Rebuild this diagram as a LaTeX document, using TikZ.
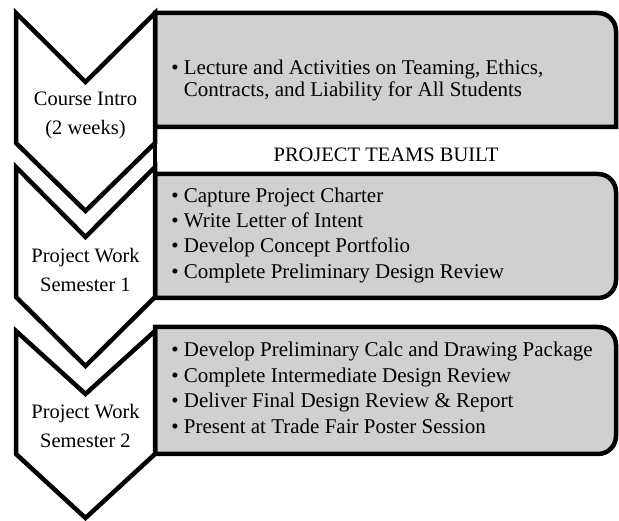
\documentclass[tikz,border=0pt]{standalone}
\usepackage{fontspec}
\setmainfont{Liberation Serif}
\definecolor{boxgray}{RGB}{208,208,208}

\begin{document}
\begin{tikzpicture}[x=1pt,y=-1pt,line join=miter,line width=4.5pt]
	\tikzset{every node/.style={inner sep=0pt,font=\fontsize{20.5}{25}\selectfont},
		item/.style={anchor=base west,font=\fontsize{21}{25}\selectfont},
		stage/.style={align=center,font=\fontsize{20.5}{29}\selectfont}}
	\useasboundingbox (0,0) rectangle (619,521);
	\draw[fill=boxgray] (155,13)--(598,13) arc[start angle=-90,end angle=0,radius=18]--(616,127)--(155,127)--cycle;
	\draw[fill=boxgray] (155,174)--(598,174) arc[start angle=-90,end angle=0,radius=18]--(616,280) arc[start angle=0,end angle=90,radius=18]--(155,298)--cycle;
	\draw[fill=boxgray] (155,327)--(598,327) arc[start angle=-90,end angle=0,radius=18]--(616,436) arc[start angle=0,end angle=90,radius=18]--(155,454)--cycle;
	\draw (155,127)--(155,174);
	\foreach \t/\n/\s/\p in {13/82/143/211,167/237/297/366,331/394/454/518}
	\draw[fill=white] (16,\t)--(85.5,\n)--(155,\t)--(155,\s)--(85.5,\p)--(16,\s)--cycle;
	\node[stage] (intro) at (85.5,115) {Course Intro\\(2 weeks)};
	\node[stage] (semA) at (85.5,270) {Project Work\\Semester 1};
	\node[stage] (semB) at (85.5,426) {Project Work\\Semester 2};
	\node (built) at (386,155) {PROJECT TEAMS BUILT};
	\node[item] (intro1) at (169,75) {\textbullet\ Lecture and Activities on Teaming, Ethics,};
	\node[item] (intro2) at (169,97) {\phantom{\textbullet\ }Contracts, and Liability for All Students};
	\foreach \y/\txt [count=\i] in {203/Capture Project Charter,228/Write Letter of Intent,
		253/Develop Concept Portfolio,279/Complete Preliminary Design Review}
	\node[item] (semA\i) at (169,\y) {\textbullet\ \txt};
	\foreach \y/\txt [count=\i] in {357/Develop Preliminary Calc and Drawing Package,383/Complete Intermediate Design Review,
		408/Deliver Final Design Review \& Report,434/Present at Trade Fair Poster Session}
	\node[item] (semB\i) at (169,\y) {\textbullet\ \txt};
\end{tikzpicture}
\end{document}
